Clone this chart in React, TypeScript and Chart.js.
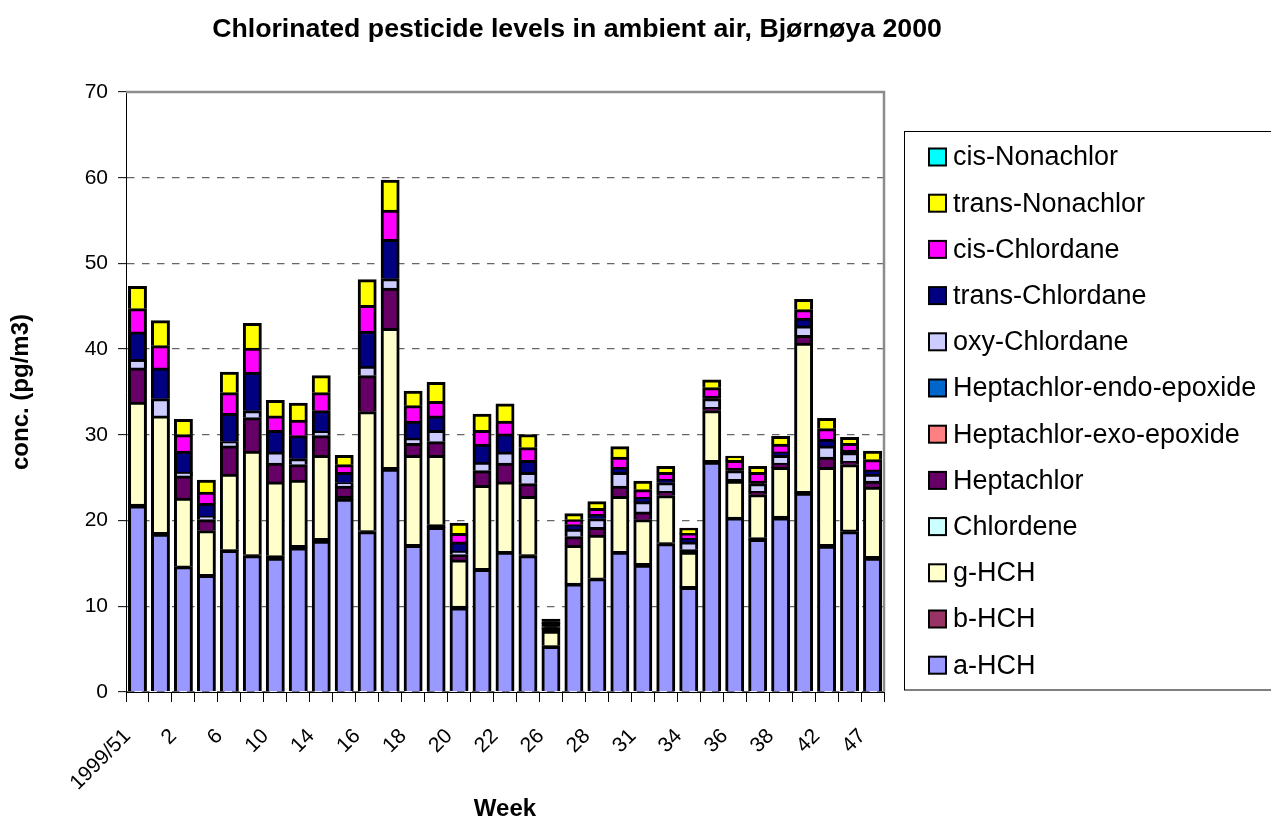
import { useEffect, useRef } from 'react';
import { Chart, registerables } from 'chart.js';

Chart.register(...registerables);

const FONT = "'Liberation Sans', Arial, Helvetica, sans-serif";

// Week labels (only every other one is printed on the axis, as in the original)
const weeks = [
  '1999/51', '1999/52', '2', '4', '6', '8', '10', '12', '14', '15', '16', '17',
  '18', '19', '20', '21', '22', '24', '26', '27', '28', '30', '31', '32',
  '34', '35', '36', '37', '38', '40', '42', '44', '47',
];

const seriesNames = [
  'a-HCH', 'b-HCH', 'g-HCH', 'Chlordene', 'Heptachlor', 'Heptachlor-exo-epoxide',
  'Heptachlor-endo-epoxide', 'oxy-Chlordane', 'trans-Chlordane', 'cis-Chlordane',
  'trans-Nonachlor', 'cis-Nonachlor',
];

const seriesColors = [
  '#9999FF', '#993366', '#FFFFCC', '#CCFFFF', '#660066', '#FF8080',
  '#0066CC', '#CCCCFF', '#000080', '#FF00FF', '#FFFF00', '#00FFFF',
];

const aHCH = [21.7, 18.4, 14.6, 13.6, 16.5, 15.9, 15.6, 16.8, 17.6, 22.5, 18.7, 26.0, 17.1, 19.2, 9.8, 14.3, 16.3, 15.9, 5.3, 12.6, 13.2, 16.3, 14.8, 17.3, 12.2, 26.8, 20.3, 17.8, 20.3, 23.2, 17.0, 18.7, 15.6];
const bHCH = [0.2, 0.2, 0.1, 0.1, 0.1, 0.1, 0.3, 0.3, 0.3, 0.1, 0.1, 0.2, 0.1, 0.3, 0.2, 0.1, 0.1, 0.1, 0.1, 0.1, 0.1, 0.1, 0.2, 0.1, 0.1, 0.2, 0.1, 0.2, 0.2, 0.2, 0.2, 0.2, 0.2];
const gHCH = [11.9, 13.6, 7.9, 5.1, 8.8, 12.1, 8.6, 7.6, 9.7, 0.2, 13.9, 16.2, 10.4, 8.1, 5.4, 9.7, 8.1, 6.8, 1.7, 4.4, 5.0, 6.4, 5.1, 5.5, 4.0, 5.8, 4.2, 5.0, 5.7, 17.3, 9.0, 7.6, 8.1];
const chlordene = [0, 0, 0, 0, 0, 0, 0, 0, 0, 0, 0, 0, 0, 0, 0, 0, 0, 0, 0.1, 0, 0, 0, 0, 0, 0, 0, 0, 0, 0, 0, 0, 0, 0];
const heptachlor = [4.0, 0, 2.6, 1.3, 3.3, 3.9, 2.2, 1.8, 2.3, 1.2, 4.2, 4.7, 1.4, 1.6, 0.6, 1.7, 2.2, 1.5, 0.2, 1.0, 0.9, 1.2, 0.9, 0.5, 0.3, 0.4, 0.2, 0.4, 0.5, 0.9, 1.2, 0.4, 0.7];
const heptExo = [0, 0, 0, 0, 0, 0, 0, 0, 0, 0, 0, 0, 0, 0, 0, 0, 0, 0, 0.1, 0, 0, 0, 0, 0, 0, 0, 0, 0, 0, 0, 0, 0, 0];
const heptEndo = [0, 0, 0, 0, 0, 0, 0, 0, 0, 0, 0, 0, 0, 0, 0, 0, 0, 0, 0.1, 0, 0, 0, 0, 0, 0, 0, 0, 0, 0, 0, 0, 0, 0];
const oxyChlordane = [1.0, 2.0, 0.4, 0.4, 0.5, 0.8, 1.3, 0.7, 0.5, 0.4, 1.1, 1.1, 0.6, 1.3, 0.4, 1.0, 1.3, 1.3, 0.2, 0.9, 1.0, 1.6, 1.2, 1.0, 0.9, 1.0, 1.0, 0.9, 0.9, 1.1, 1.3, 1.0, 0.8];
const transChlordane = [3.2, 3.6, 2.5, 1.5, 3.3, 4.5, 2.5, 2.7, 2.4, 1.2, 4.1, 4.6, 2.0, 1.7, 1.1, 2.1, 2.1, 1.4, 0.2, 0.5, 0.5, 0.6, 0.5, 0.4, 0.4, 0.3, 0.3, 0.3, 0.4, 0.9, 0.8, 0.3, 0.5];
const cisChlordane = [2.7, 2.6, 1.9, 1.3, 2.4, 2.8, 1.7, 1.8, 2.1, 0.9, 3.0, 3.4, 1.8, 1.7, 1.0, 1.6, 1.5, 1.5, 0.2, 0.6, 0.7, 1.2, 0.9, 0.8, 0.6, 1.0, 0.9, 1.0, 0.9, 1.0, 1.2, 0.8, 1.2];
const transNonachlor = [2.6, 2.9, 1.8, 1.4, 2.4, 2.9, 1.8, 2.0, 2.0, 1.1, 3.0, 3.5, 1.7, 2.2, 1.2, 1.9, 2.0, 1.5, 0.2, 0.7, 0.8, 1.2, 1.0, 0.7, 0.6, 0.9, 0.5, 0.7, 0.9, 1.2, 1.2, 0.7, 1.0];
const cisNonachlor = [0, 0, 0, 0, 0, 0, 0, 0, 0, 0, 0, 0, 0, 0, 0, 0, 0, 0, 0.1, 0, 0, 0, 0, 0, 0, 0, 0, 0, 0, 0, 0, 0, 0];

const seriesValues = [
  aHCH, bHCH, gHCH, chlordene, heptachlor, heptExo, heptEndo,
  oxyChlordane, transChlordane, cisChlordane, transNonachlor, cisNonachlor,
];

const yTicks = [0, 10, 20, 30, 40, 50, 60, 70];

const decorPlugin = {
  id: 'decor',
  beforeDatasetsDraw(chart: any) {
    const { ctx, chartArea } = chart;
    ctx.save();
    ctx.strokeStyle = '#8c8c8c';
    ctx.lineWidth = 2.5;
    ctx.beginPath();
    ctx.moveTo(chartArea.left, chartArea.top);
    ctx.lineTo(chartArea.right, chartArea.top);
    ctx.lineTo(chartArea.right, chartArea.bottom);
    ctx.stroke();
    ctx.restore();
  },
  afterDraw(chart: any) {
    const { ctx } = chart;
    ctx.save();
    // Title
    ctx.fillStyle = '#000';
    ctx.font = `bold 26.7px ${FONT}`;
    ctx.textAlign = 'center';
    ctx.textBaseline = 'alphabetic';
    ctx.fillText('Chlorinated pesticide levels in ambient air, Bjørnøya 2000', 577, 37);

    // Legend
    ctx.strokeStyle = '#000';
    ctx.lineWidth = 1;
    ctx.strokeRect(904.5, 131.5, 420, 558.5);
    const n = seriesNames.length;
    ctx.font = `27px ${FONT}`;
    ctx.textAlign = 'left';
    ctx.textBaseline = 'middle';
    for (let i = 0; i < n; i++) {
      const k = n - 1 - i;
      const y = 157 + i * 46.2;
      ctx.fillStyle = seriesColors[k];
      ctx.fillRect(929, y - 8.5, 17, 17);
      ctx.lineWidth = 2;
      ctx.strokeStyle = '#000';
      ctx.strokeRect(929, y - 8.5, 17, 17);
      ctx.fillStyle = '#000';
      ctx.fillText(seriesNames[k], 953, y + 1);
    }
    ctx.restore();
  },
};

export default function App() {
  const ref = useRef<HTMLCanvasElement | null>(null);

  useEffect(() => {
    if (!ref.current) return;
    const datasets = seriesNames.map((name, i) => ({
      label: name,
      data: seriesValues[i],
      backgroundColor: (c: any) => (typeof c.raw === 'number' && c.raw < 0.35 ? '#000' : seriesColors[i]),
      borderColor: '#000',
      borderWidth: 3,
      inflateAmount: 0.5,
      barPercentage: 0.78,
      categoryPercentage: 1,
    }));

    const chart = new Chart(ref.current, {
      type: 'bar',
      data: { labels: weeks, datasets },
      plugins: [decorPlugin],
      options: {
        animation: false,
        responsive: false,
        devicePixelRatio: 1,
        layout: { padding: { left: 0, right: 387, top: 92, bottom: 0 } },
        plugins: {
          legend: { display: false },
          title: { display: false },
          tooltip: { enabled: false },
        },
        scales: {
          x: {
            stacked: true,
            offset: true,
            grid: {
              offset: true,
              drawOnChartArea: false,
              drawTicks: true,
              tickLength: 10,
              tickColor: '#000',
              tickWidth: 1,
            },
            border: { display: true, color: '#000', width: 1 },
            ticks: {
              autoSkip: false,
              maxRotation: 45,
              minRotation: 45,
              padding: 22,
              labelOffset: -10,
              color: '#000',
              font: { family: FONT, size: 21 },
              callback: (_v: any, i: number) => (i % 2 === 0 ? weeks[i] : ''),
            },
            title: {
              display: true,
              text: 'Week',
              color: '#000',
              font: { family: FONT, size: 24, weight: 'bold', lineHeight: 0.9 },
              padding: 0,
            },
            afterFit: (s: any) => {
              s.height = 128;
            },
          },
          y: {
            stacked: true,
            min: 0,
            max: 70,
            afterBuildTicks: (s: any) => {
              s.ticks = yTicks.map((v) => ({ value: v }));
            },
            ticks: {
              padding: 10,
              color: '#000',
              font: { family: FONT, size: 21 },
            },
            grid: {
              color: '#666',
              lineWidth: 1.3,
              drawTicks: true,
              tickLength: 8,
              tickColor: '#000',
              tickWidth: 1,
              tickBorderDash: [],
            },
            border: { display: true, color: '#000', width: 1, dash: [7.5, 7.5] },
            title: {
              display: true,
              text: 'conc. (pg/m3)',
              color: '#000',
              font: { family: FONT, size: 24, weight: 'bold', lineHeight: 0.9 },
              padding: { top: 11, bottom: 0 },
            },
            afterFit: (s: any) => {
              s.width = 126;
            },
          },
        },
      } as any,
    });
    return () => chart.destroy();
  }, []);

  return (
    <div style={{ position: 'absolute', left: 0, top: 0, width: 1271, height: 820, background: '#fff' }}>
      <canvas ref={ref} width={1271} height={820} style={{ display: 'block' }} />
    </div>
  );
}
